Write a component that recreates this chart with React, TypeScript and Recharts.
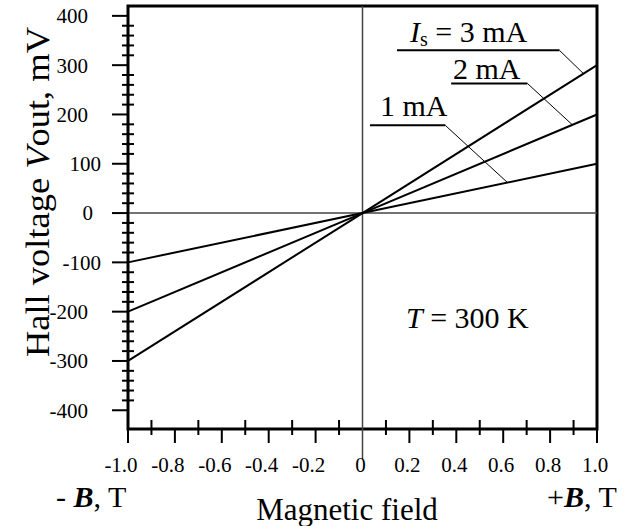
import { LineChart, Line, XAxis, YAxis, ReferenceLine, ReferenceArea } from 'recharts'

// magnetic field, T
const fieldB = [-1, 0, 1]
// Hall voltage, mV, per supply current
const hall1mA = [-100, 0, 100]
const hall2mA = [-200, 0, 200]
const hall3mA = [-300, 0, 300]

const xTicks = [-1, -0.9, -0.8, -0.7, -0.6, -0.5, -0.4, -0.3, -0.2, -0.1, 0, 0.1, 0.2, 0.3, 0.4, 0.5, 0.6, 0.7, 0.8, 0.9, 1]
const yTicks = [
  -400, -380, -360, -340, -320, -300, -280, -260, -240, -220, -200, -180, -160, -140, -120, -100, -80, -60, -40, -20,
  0, 20, 40, 60, 80, 100, 120, 140, 160, 180, 200, 220, 240, 260, 280, 300, 320, 340, 360, 380, 400,
]
const xDomain = [-1, 1]
const yDomain = [-438, 420]

// callout underlines and leaders, in data units [B, mV]
const callouts = [
  { name: '3 mA', under: [[0.147, 330], [0.84, 330]], leader: [[0.84, 330], [0.942, 283]] },
  { name: '2 mA', under: [[0.378, 263], [0.703, 263]], leader: [[0.703, 263], [0.895, 179]] },
  { name: '1 mA', under: [[0.032, 178], [0.353, 178]], leader: [[0.353, 178], [0.618, 62]] },
]

const FONT = '"Liberation Serif", "Times New Roman", serif'

const data = fieldB.map((b, i) => ({ b, i1: hall1mA[i], i2: hall2mA[i], i3: hall3mA[i] }))

function XTick(props: any) {
  const { x, y, payload } = props
  const v = payload.value as number
  const tenth = Math.round(v * 10)
  const major = tenth % 2 === 0
  const label = v === 0 ? '0' : v.toFixed(1)
  return (
    <g>
      {v !== 0 &&
        (major ? (
          <line x1={x} x2={x} y1={y} y2={y + 14} stroke="#000" strokeWidth={2} />
        ) : (
          <line x1={x} x2={x} y1={y - 9} y2={y + 6} stroke="#000" strokeWidth={2} />
        ))}
      {major && (
        <text x={x + (v < 0 ? -7 : -2)} y={y + 43} textAnchor="middle" fontSize={21} fontFamily={FONT} fill="#000">
          {label}
        </text>
      )}
    </g>
  )
}

function YTick(props: any) {
  const { x, y, payload } = props
  const v = payload.value as number
  const major = v % 100 === 0
  const right = v === 0 ? 35 : Math.abs(v) === 100 ? 27 : 40
  return (
    <g>
      {major ? (
        <line x1={x - 16} x2={x + 1} y1={y} y2={y} stroke="#000" strokeWidth={2} />
      ) : (
        <line x1={x - 6} x2={x + 6} y1={y} y2={y} stroke="#000" strokeWidth={2} />
      )}
      {major && (
        <text x={x - right} y={y} dy="0.35em" textAnchor="end" fontSize={21} fontFamily={FONT} fill="#000">
          {v}
        </text>
      )}
    </g>
  )
}

export default function App() {
  return (
    <div style={{ position: 'absolute', left: 0, top: 0, width: 633, height: 526, background: '#fff' }}>
      <LineChart width={633} height={526} data={data} margin={{ top: 6, right: 36, left: 0, bottom: 0 }}>
        <XAxis
          type="number"
          dataKey="b"
          domain={xDomain}
          ticks={xTicks}
          interval={0}
          axisLine={false}
          tickLine={false}
          tickSize={0}
          tickMargin={0}
          height={97}
          tick={<XTick />}
        />
        <YAxis
          type="number"
          domain={yDomain}
          ticks={yTicks}
          interval={0}
          axisLine={false}
          tickLine={false}
          tickSize={0}
          tickMargin={0}
          width={128}
          tick={<YTick />}
        />
        <ReferenceLine y={0} stroke="#444" strokeWidth={1.5} />
        <ReferenceLine
          segment={[{ x: 0, y: yDomain[1] }, { x: 0, y: -500 }]}
          ifOverflow="visible"
          stroke="#444"
          strokeWidth={1.5}
        />
        {callouts.map((c) => (
          <ReferenceLine
            key={c.name + 'u'}
            segment={c.under.map(([x, y]) => ({ x, y }))}
            stroke="#000"
            strokeWidth={2}
          />
        ))}
        {callouts.map((c) => (
          <ReferenceLine
            key={c.name + 'l'}
            segment={c.leader.map(([x, y]) => ({ x, y }))}
            stroke="#000"
            strokeWidth={1}
          />
        ))}
        <Line type="linear" dataKey="i1" stroke="#000" strokeWidth={2} dot={false} isAnimationActive={false} />
        <Line type="linear" dataKey="i2" stroke="#000" strokeWidth={2} dot={false} isAnimationActive={false} />
        <Line type="linear" dataKey="i3" stroke="#000" strokeWidth={2} dot={false} isAnimationActive={false} />
        <ReferenceArea
          x1={xDomain[0]}
          x2={xDomain[1]}
          y1={yDomain[0]}
          y2={yDomain[1]}
          fill="none"
          fillOpacity={0}
          stroke="#000"
          strokeWidth={3}
        />
      </LineChart>
      <svg
        width={633}
        height={526}
        style={{ position: 'absolute', left: 0, top: 0, pointerEvents: 'none' }}
        fontFamily={FONT}
        fill="#000"
      >
        <text x={410} y={42} fontSize={30}>
          <tspan fontStyle="italic">I</tspan>
          <tspan fontSize={20} dy={4}>s</tspan>
          <tspan dy={-4}> = 3 mA</tspan>
        </text>
        <text x={453} y={79} fontSize={30}>2 mA</text>
        <text x={380} y={116} fontSize={30}>1 mA</text>
        <text x={406} y={328} fontSize={30}>
          <tspan fontStyle="italic">T</tspan> = 300 K
        </text>
        <text
          x={49}
          y={192}
          fontSize={34}
          textAnchor="middle"
          transform="rotate(-90 49 192)"
          textLength={330}
          lengthAdjust="spacingAndGlyphs"
        >
          Hall voltage <tspan fontStyle="italic">V</tspan>out, mV
        </text>
        <text x={347} y={520} fontSize={31} textAnchor="middle">Magnetic field</text>
        <text x={56} y={507} fontSize={30}>
          - <tspan fontWeight="bold" fontStyle="italic">B</tspan>, T
        </text>
        <text x={547} y={507} fontSize={30}>
          +<tspan fontWeight="bold" fontStyle="italic">B</tspan>, T
        </text>
      </svg>
    </div>
  )
}
